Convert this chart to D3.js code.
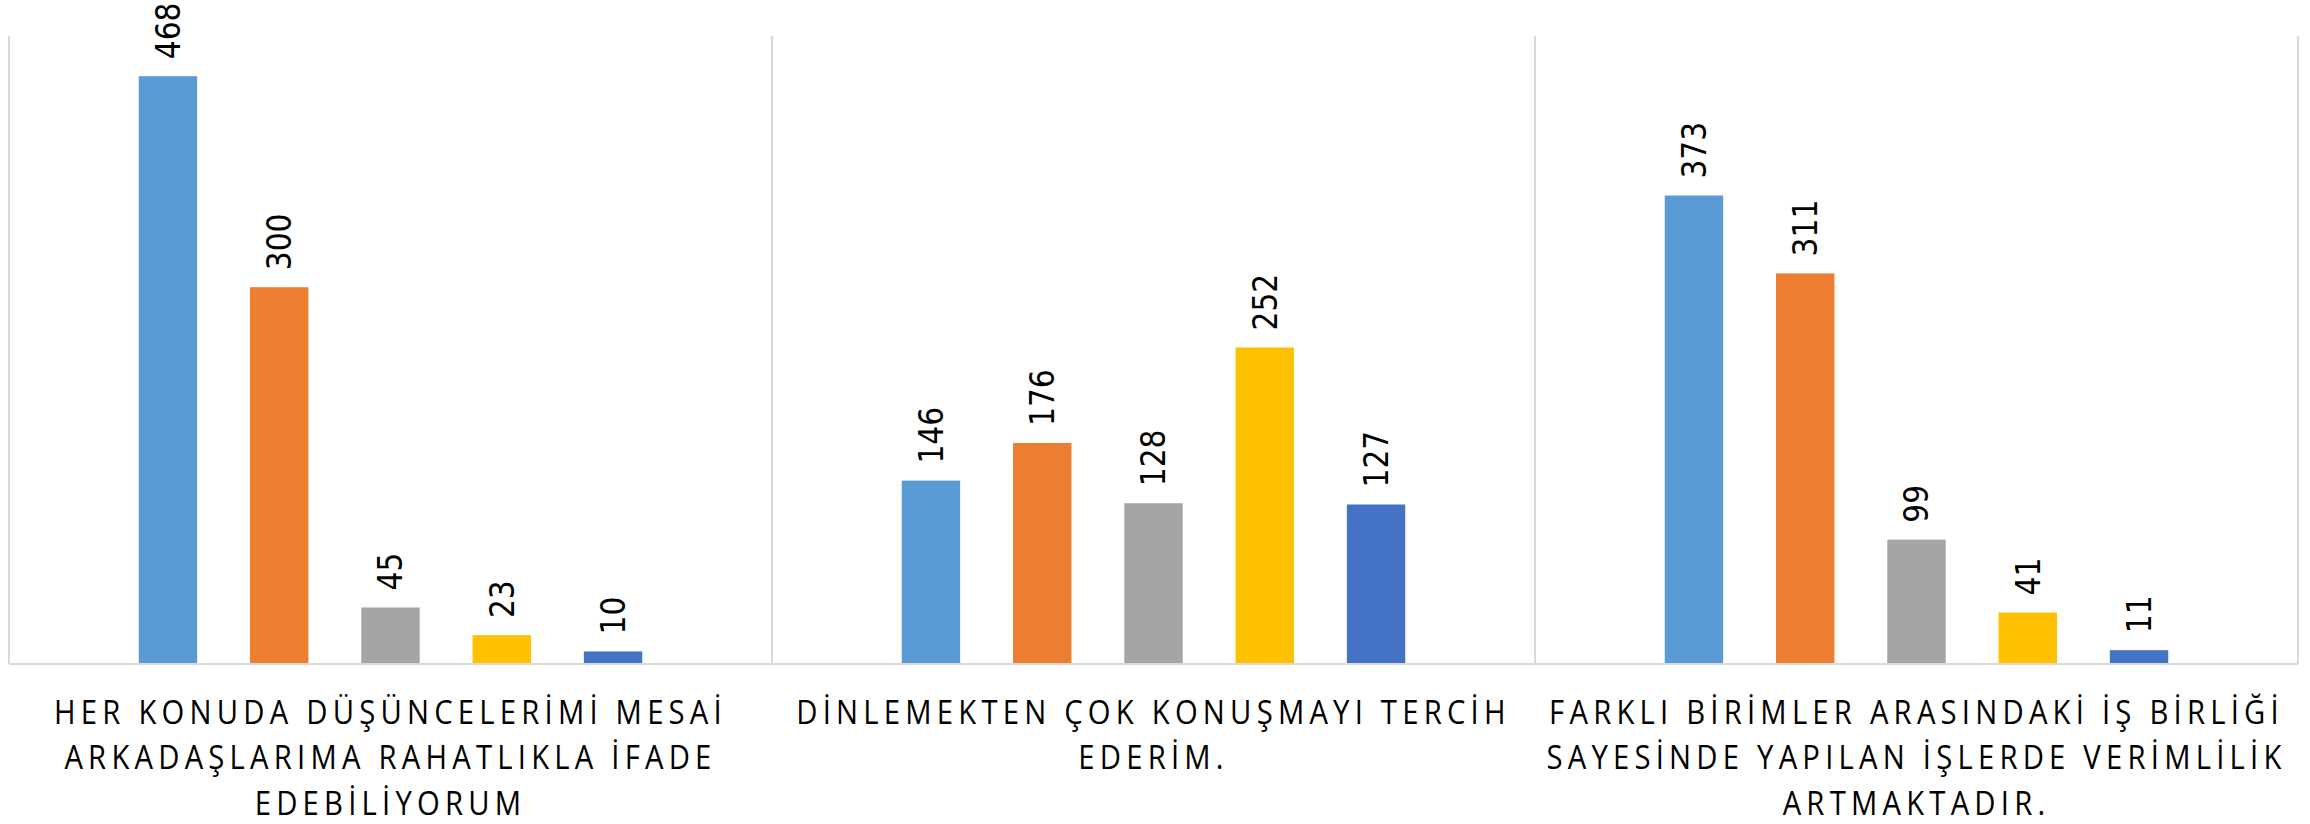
<!DOCTYPE html>
<html>
<head>
<meta charset="utf-8">
<script src="https://cdn.jsdelivr.net/npm/d3@7"></script>
<style>
  body { margin: 0; background: #fff; }
  svg { display: block; }
</style>
</head>
<body>
<div id="chart"></div>
<script>
// categories (question statements), each kept as the wrapped lines the chart shows
var categories = ["q1", "q2", "q3"];
var categoryLines = [
  ["HER KONUDA DÜŞÜNCELERİMİ MESAİ", "ARKADAŞLARIMA RAHATLIKLA İFADE", "EDEBİLİYORUM"],
  ["DİNLEMEKTEN ÇOK KONUŞMAYI TERCİH", "EDERİM."],
  ["FARKLI BİRİMLER ARASINDAKİ İŞ BİRLİĞİ", "SAYESİNDE YAPILAN İŞLERDE VERİMLİLİK", "ARTMAKTADIR."]
];
// five answer series
var series = ["s1", "s2", "s3", "s4", "s5"];
var colors = ["#5B9BD5", "#ED7D31", "#A5A5A5", "#FFC000", "#4472C4"];
var values = [
  [468, 300, 45, 23, 10],
  [146, 176, 128, 252, 127],
  [373, 311, 99, 41, 11]
];
var yMax = 500;

var width = 2310, height = 824;
var plot = {left: 9, right: 2298, top: 36, bottom: 664};

var svg = d3.select("#chart").append("svg")
  .attr("width", width)
  .attr("height", height);

var x0 = d3.scaleBand()
  .domain(categories)
  .range([plot.left, plot.right])
  .padding(0);

var x1 = d3.scaleBand()
  .domain(series)
  .range([0, x0.bandwidth()])
  .paddingInner(0.475)
  .paddingOuter(1.166);

var y = d3.scaleLinear()
  .domain([0, yMax])
  .range([plot.bottom, plot.top]);

// vertical separators between categories
var bounds = categories.map(c => x0(c)).concat([plot.right]);
svg.append("g")
  .selectAll("line")
  .data(bounds)
  .enter().append("line")
    .attr("x1", d => d)
    .attr("x2", d => d)
    .attr("y1", y(yMax))
    .attr("y2", y(0))
    .attr("stroke", "#d9d9d9")
    .attr("stroke-width", 2);

var groups = svg.selectAll(".grp")
  .data(categories)
  .enter().append("g")
    .attr("class", "grp")
    .attr("transform", d => "translate(" + x0(d) + ",0)");

groups.selectAll("rect")
  .data((d, i) => values[i].map((v, j) => ({s: series[j], v: v, c: colors[j]})))
  .enter().append("rect")
    .attr("x", d => x1(d.s))
    .attr("width", x1.bandwidth())
    .attr("y", d => y(d.v))
    .attr("height", d => y(0) - y(d.v))
    .style("fill", d => d.c);

// value labels, rotated
groups.selectAll("text.val")
  .data((d, i) => values[i].map((v, j) => ({s: series[j], v: v})))
  .enter().append("text")
    .attr("class", "val")
    .attr("transform", d => "translate(" + (x1(d.s) + x1.bandwidth() / 2) + "," + (y(d.v) - 17) + ") rotate(-90)")
    .attr("dy", "0.36em")
    .style("font-family", "'DejaVu Sans Condensed', 'DejaVu Sans', sans-serif")
    .style("font-stretch", "condensed")
    .style("font-size", "33px")
    .style("fill", "#000")
    .text(d => d.v);

// baseline
svg.append("line")
  .attr("x1", plot.left)
  .attr("x2", plot.right)
  .attr("y1", y(0))
  .attr("y2", y(0))
  .attr("stroke", "#d9d9d9")
  .attr("stroke-width", 2);

// category labels (narrowed a bit to look like the original condensed face)
var lab = svg.append("g")
  .selectAll("text")
  .data(categories)
  .enter().append("text")
    .attr("transform", d => "translate(" + (x0(d) + x0.bandwidth() / 2) + ",724) scale(0.9,1)")
    .style("text-anchor", "middle")
    .style("font-family", "'Open Sans', sans-serif")
    .style("font-size", "32.5px")
    .style("letter-spacing", "5.8px")
    .style("fill", "#000");

lab.selectAll("tspan")
  .data((d, i) => categoryLines[i])
  .enter().append("tspan")
    .attr("x", 0)
    .attr("dy", (d, i) => i === 0 ? 0 : 45.5)
    .text(d => d);
</script>
</body>
</html>
